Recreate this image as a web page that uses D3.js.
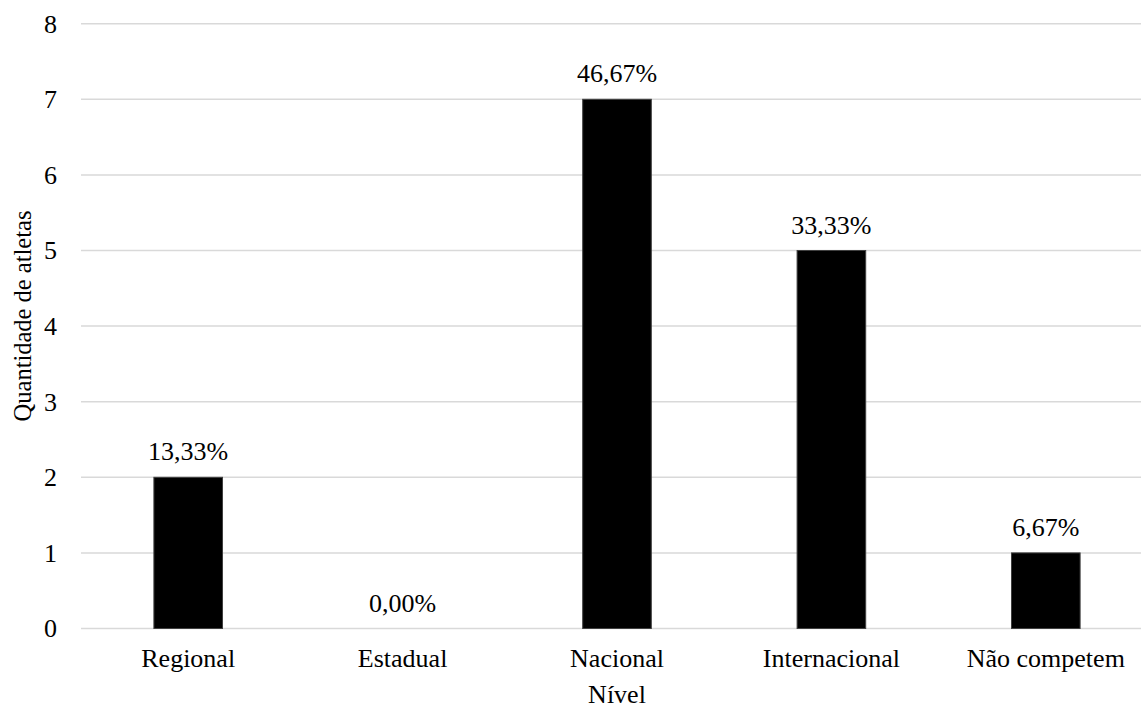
<!DOCTYPE html>
<html>
<head>
<meta charset="utf-8">
<script src="https://cdn.jsdelivr.net/npm/d3@7"></script>
</head>
<body style="margin:0">
<svg id="chart" width="1141" height="708"></svg>
<script>
// Competition level of the athletes
const categories = ["Regional", "Estadual", "Nacional", "Internacional", "Não competem"];
const athletes = [2, 0, 7, 5, 1];
const yTicks = [0, 1, 2, 3, 4, 5, 6, 7, 8];
const xTitle = "Nível";
const yTitle = "Quantidade de atletas";

const FONT = '"Liberation Serif", serif';
const FS = 26;

const total = d3.sum(athletes);
const pct = v => (v / total * 100).toFixed(2).replace(".", ",") + "%";

const svg = d3.select("#chart");
const plotLeft = 81, plotRight = 1153, plotTop = 23.7, plotBottom = 628.5;

const x = d3.scaleBand()
  .domain(categories)
  .range([plotLeft, plotRight])
  .paddingInner(0.68)
  .paddingOuter(0.34);

const y = d3.scaleLinear().domain([0, 8]).range([plotBottom, plotTop]);

// horizontal gridlines
svg.append("g")
  .selectAll("line")
  .data(yTicks)
  .join("line")
  .attr("x1", plotLeft).attr("x2", plotRight)
  .attr("y1", d => y(d)).attr("y2", d => y(d))
  .attr("stroke", "#d9d9d9")
  .attr("stroke-width", 1.5);

// y axis tick labels
const yAxis = d3.axisLeft(y).tickValues(yTicks).tickSize(0).tickPadding(0).tickFormat(d3.format("d"));
svg.append("g")
  .attr("transform", "translate(57,0)")
  .call(yAxis)
  .call(g => g.select(".domain").remove())
  .call(g => g.attr("font-family", FONT).attr("font-size", FS))
  .selectAll("text")
  .attr("font-family", FONT)
  .attr("font-size", FS)
  .attr("fill", "#000");

// bars
svg.append("g")
  .selectAll("rect")
  .data(athletes)
  .join("rect")
  .attr("x", (d, i) => x(categories[i]))
  .attr("width", x.bandwidth())
  .attr("y", d => y(d))
  .attr("height", d => y(0) - y(d))
  .attr("fill", "#000")
  .attr("stroke", "#404040")
  .attr("stroke-width", 1);

// value labels (share of athletes)
svg.append("g")
  .selectAll("text")
  .data(athletes)
  .join("text")
  .attr("x", (d, i) => x(categories[i]) + x.bandwidth() / 2)
  .attr("y", d => y(d) - 17)
  .attr("text-anchor", "middle")
  .attr("font-family", FONT)
  .attr("font-size", FS)
  .attr("fill", "#000")
  .text(d => pct(d));

// x axis category labels
const xAxis = d3.axisBottom(x).tickSize(0).tickPadding(0);
svg.append("g")
  .attr("transform", `translate(0,${plotBottom})`)
  .call(xAxis)
  .call(g => g.select(".domain").remove())
  .call(g => g.attr("font-family", FONT).attr("font-size", FS))
  .selectAll("text")
  .attr("dy", null)
  .attr("y", 38)
  .attr("font-family", FONT)
  .attr("font-size", FS)
  .attr("fill", "#000");

// axis titles
svg.append("text")
  .attr("x", (plotLeft + plotRight) / 2)
  .attr("y", 703)
  .attr("text-anchor", "middle")
  .attr("font-family", FONT)
  .attr("font-size", FS)
  .attr("fill", "#000")
  .text(xTitle);

svg.append("text")
  .attr("transform", "translate(31,316) rotate(-90)")
  .attr("text-anchor", "middle")
  .attr("font-family", FONT)
  .attr("font-size", 24.5)
  .attr("fill", "#000")
  .text(yTitle);
</script>
</body>
</html>
